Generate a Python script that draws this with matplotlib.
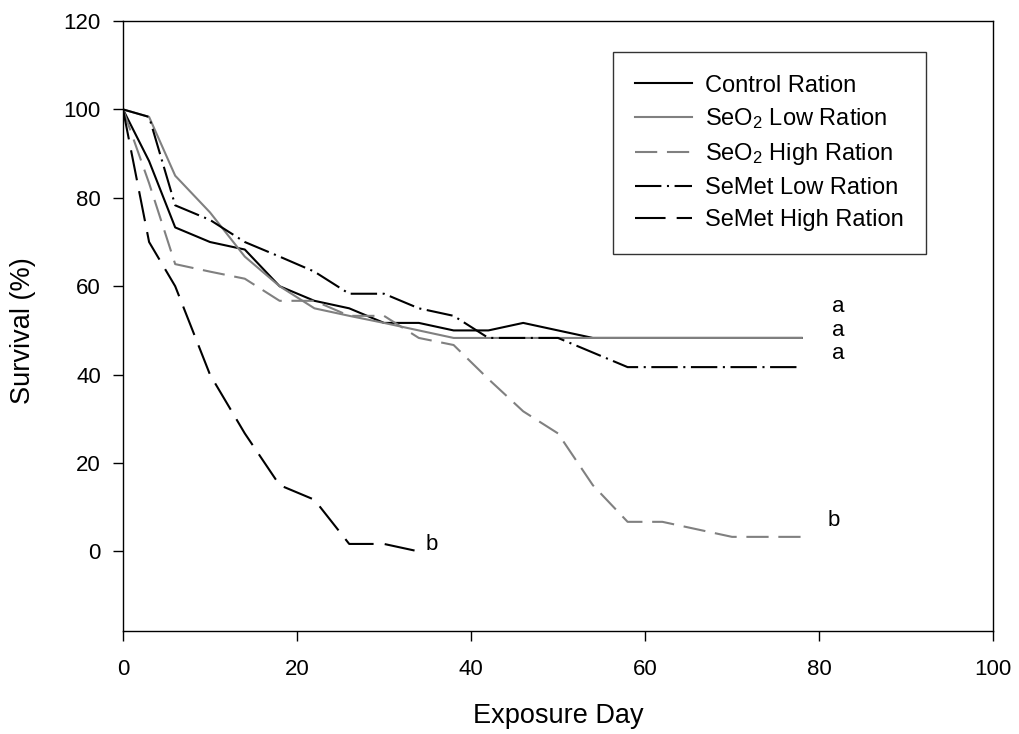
import numpy as np
import matplotlib
matplotlib.use("Agg")
import matplotlib.pyplot as plt

plt.rcParams['font.family'] = ['Liberation Sans', 'DejaVu Sans']
plt.rcParams['mathtext.fontset'] = 'custom'
plt.rcParams['mathtext.rm'] = 'Liberation Sans'
plt.rcParams['mathtext.default'] = 'regular'
plt.rcParams['lines.scale_dashes'] = False

#survival data (exposure day vs % survival)
days = [0, 3, 6, 10, 14, 18, 22, 26, 30, 34, 38, 42, 46, 50, 54, 58, 62, 66, 70, 74, 78]
control = [100, 88.3, 73.3, 70, 68.3, 60, 56.7, 55, 51.7, 51.7, 50, 50, 51.7, 50,
           48.3, 48.3, 48.3, 48.3, 48.3, 48.3, 48.3]
seo2_low = [100, 98.3, 85, 76.7, 66.7, 60, 55, 53.3, 51.7, 50, 48.3, 48.3, 48.3, 48.3,
            48.3, 48.3, 48.3, 48.3, 48.3, 48.3, 48.3]
seo2_high = [100, 83.3, 65, 63.3, 61.7, 56.7, 56.7, 53.3, 53.3, 48.3, 46.7, 39, 31.7, 26.7,
             15, 6.7, 6.7, 5, 3.3, 3.3, 3.3]
semet_low = [100, 98.3, 78.3, 75, 70, 66.7, 63.3, 58.3, 58.3, 55, 53.3, 48.3, 48.3, 48.3,
             45, 41.7, 41.7, 41.7, 41.7, 41.7, 41.7]
semet_high_days = [0, 3, 6, 10, 14, 18, 22, 26, 30, 34]
semet_high = [100, 70, 60, 40, 26.7, 15, 11.7, 1.7, 1.7, 0]

labels = ['Control Ration', 'SeO$_2$ Low Ration', 'SeO$_2$ High Ration',
          'SeMet Low Ration', 'SeMet High Ration']

#significance letters
letters = ['a', 'a', 'a', 'b', 'b']
letter_x = [81.5, 81.5, 81.5, 81.0, 34.8]
letter_y = [55.3, 50.0, 44.7, 7.0, 1.6]

gray = '#808080'

fig = plt.figure(figsize=(10.19, 7.34), dpi=100)
ax = fig.add_axes([0.1207, 0.1403, 0.8538, 0.8311])

ax.plot(days, control, color='black', lw=1.5, label=labels[0])
ax.plot(days, seo2_low, color=gray, lw=1.5, label=labels[1])
ax.plot(days, seo2_high, color=gray, lw=1.5, dashes=(16, 7), label=labels[2])
ax.plot(days, semet_low, color='black', lw=1.5, dashes=(19, 4, 1.5, 4), label=labels[3])
ax.plot(semet_high_days, semet_high, color='black', lw=1.5, dashes=(22, 8), label=labels[4])

for t, x, y in zip(letters, letter_x, letter_y):
    ax.text(x, y, t, fontsize=16, ha='left', va='center')

ax.set_xlim(0, 100)
ax.set_ylim(-18, 120)
ax.set_xticks(np.arange(0, 101, 20))
ax.set_yticks(np.arange(0, 121, 20))
ax.tick_params(direction='out', length=7, width=1, labelsize=16,
               top=False, right=False)
ax.tick_params(axis='x', pad=13.5)
ax.tick_params(axis='y', pad=9)
for s in ax.spines.values():
    s.set_linewidth(1)

ax.set_xlabel('Exposure Day', fontsize=19.5)
ax.set_ylabel('Survival (%)', fontsize=19.5)
ax.xaxis.set_label_coords(0.5, -0.118)
ax.yaxis.set_label_coords(-0.100, 0.493)

leg = ax.legend(loc='upper left', bbox_to_anchor=(0.563, 0.949), borderaxespad=0,
                fontsize=17, frameon=True, fancybox=False, edgecolor='black',
                handlelength=2.4, handletextpad=0.55, labelspacing=0.42,
                borderpad=0.95)
leg.get_frame().set_linewidth(1)

fig.savefig('out.png', dpi=100)
